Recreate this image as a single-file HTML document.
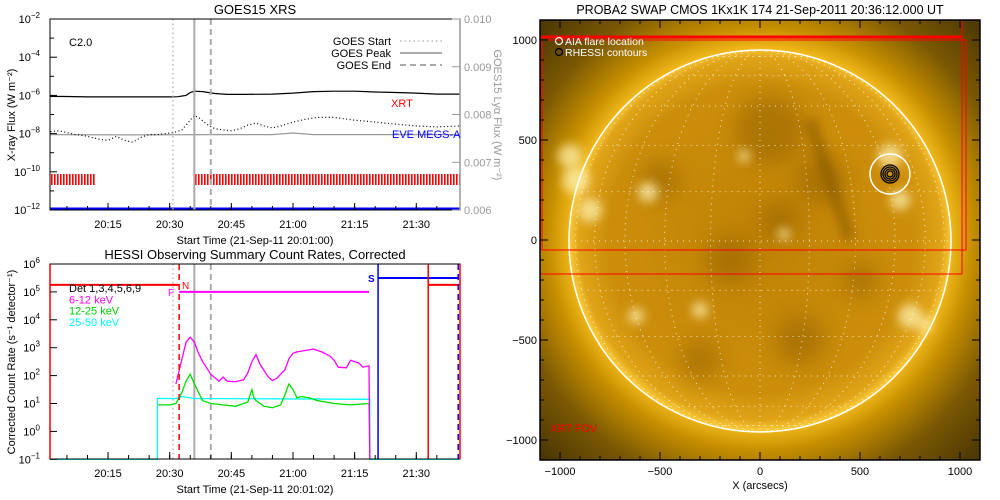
<!DOCTYPE html>
<html><head><meta charset="utf-8"><style>
html,body{margin:0;padding:0;background:#fff}
svg{display:block;font-family:"Liberation Sans",sans-serif}
</style></head><body>
<svg id="s" width="1000" height="500" viewBox="0 0 1000 500" xmlns="http://www.w3.org/2000/svg">
<defs>
<pattern id="xrtp" width="3" height="12" patternUnits="userSpaceOnUse"><rect width="1.6" height="12" fill="#f00"/></pattern>
<radialGradient id="cor" cx="760.5" cy="239" r="310" gradientUnits="userSpaceOnUse">
<stop offset="0.6" stop-color="#f8c020"/><stop offset="0.68" stop-color="#c89000"/><stop offset="0.82" stop-color="#7a5804"/><stop offset="1" stop-color="#4a3604"/></radialGradient>
<radialGradient id="disk" cx="760.5" cy="239" r="191" gradientUnits="userSpaceOnUse">
<stop offset="0" stop-color="#c08206"/><stop offset="0.8" stop-color="#cc8e0a"/><stop offset="0.95" stop-color="#e0a418"/><stop offset="1" stop-color="#f8c838"/></radialGradient>
<filter id="bl" x="-50%" y="-50%" width="200%" height="200%"><feGaussianBlur stdDeviation="5"/></filter>
<filter id="bl2" x="-50%" y="-50%" width="200%" height="200%"><feGaussianBlur stdDeviation="10"/></filter>
<clipPath id="imgclip"><rect x="540" y="20" width="440" height="440"/></clipPath>
<clipPath id="diskclip"><circle cx="760" cy="241" r="191"/></clipPath>
</defs>
<g id="top"></g>
<g id="bot"></g>
<g id="sun"></g>
</svg>
<script>
// ---------- data ----------
const goesLongT=[1,5,10,15,20,25,30,32,34,35,36,38,41,44,48,55,60,65,70,75,80,85,90,95,100.5];
const goesLongV=[-6.05,-6.06,-6.08,-6.08,-6.08,-6.08,-6.08,-6.07,-6.0,-5.85,-5.78,-5.8,-5.9,-5.95,-5.95,-5.93,-5.88,-5.8,-5.78,-5.78,-5.82,-5.85,-5.88,-5.93,-5.93];
const goesShortT=[1,3,5,7,9,11,13,15,17,19,21,23,25,27,29,31,33,35,36,37,39,41,43,45,47,49,51,53,55,57,60,63,66,70,75,80,85,90,95,100.5];
const goesShortV=[-7.9,-7.85,-7.95,-8.05,-8.1,-8.2,-8.3,-8.35,-8.15,-8.35,-8.45,-8.2,-8.05,-8.05,-8.0,-7.95,-7.8,-7.3,-7.05,-7.15,-7.5,-7.75,-7.8,-7.85,-7.75,-7.55,-7.45,-7.6,-7.7,-7.6,-7.4,-7.25,-7.15,-7.15,-7.3,-7.4,-7.5,-7.6,-7.65,-7.6];
const eveT=[1,20,40,55,60,65,100.5];
const eveV=[-8.05,-8.07,-8.05,-8.05,-7.97,-8.05,-8.05];
const xrtSegStart=[1,36];
const xrtSegEnd=[12,100.5];
const topTickLabels=["-2","-4","-6","-8","-10","-12"];
const timeTicks=[15,30,45,60,75,90];
const timeLabels=["20:15","20:30","20:45","21:00","21:15","21:30"];
const rightTicks=["0.010","0.009","0.008","0.007","0.006"];
const eventTimes=[30.8,36,40];
const magT=[31.5,32,33,34,35,36,37,38,40,42,43,44,46,48,49,50,51,52,54,55,56,58,59,60,61,63,65,67,69,70,71,73,74,75,76,77,78.5,78.7];
const magV=[1.7,2.0,2.6,3.2,3.38,3.2,2.8,2.5,2.05,1.8,1.95,1.8,1.78,1.85,2.1,2.5,2.75,2.4,1.95,1.82,1.9,2.2,2.6,2.8,2.85,2.9,2.95,2.85,2.7,2.55,2.3,2.28,2.55,2.5,2.45,2.3,2.35,-1];
const grnT=[27,30,31.5,33,34,35,36,37,38,40,43,46,49,50,50.5,51,53,55,57,58,59,60,61,62,64,66,70,74,78.5,78.7];
const grnV=[0.95,0.95,1.0,1.4,1.8,2.05,1.7,1.4,1.1,1.0,0.95,0.9,1.05,1.5,1.2,1.1,0.9,0.85,0.95,1.3,1.7,1.5,1.2,1.25,1.2,1.1,1.0,0.95,1.0,-1];
const cyaT=[1,27,27,31.5,33,36,78.7,78.7,100.5];
const cyaV=[-1,-1,1.18,1.18,1.25,1.18,1.15,-1,-1];
const botTickPow=["6","5","4","3","2","1","0","-1"];
const attenT=[32.3,92.9];
const saaT=[80.7,100.2];
const solarR=955;
const aiaFlare=[650,330];
const fovBox1=[-1100,1000,1010,-170];
const fovBox2=[-1090,1000,1030,-50];
const imgTicks=[-1000,-500,0,500,1000];

// ---------- helpers ----------
const NS="http://www.w3.org/2000/svg";
function mk(p,tag,at,txt){const e=document.createElementNS(NS,tag);for(const k in at)e.setAttribute(k,at[k]);if(txt!==undefined)e.textContent=txt;p.appendChild(e);return e;}
const xT=m=>50.5+(m-1)*4.11;
const yTop=v=>19+(-2-v)*19.1;
const yBot=v=>264+(6-v)*27.9;

// ---------- top panel ----------
const topG=document.getElementById('top');
let t=mk(topG,'text',{x:255,y:14,'text-anchor':'middle','font-size':13});t.textContent="GOES15 XRS";

for(let i=0;i<xrtSegStart.length;i++){
 const r=mk(topG,'rect',{x:xT(xrtSegStart[i]),y:174,width:xT(xrtSegEnd[i])-xT(xrtSegStart[i]),height:11,fill:'url(#xrtp)'});
 
}
function poly(p,T,V,ys,attrs,name){const pts=T.map((m,i)=>xT(m).toFixed(1)+','+ys(V[i]).toFixed(1)).join(' ');
 const e=mk(p,'polyline',Object.assign({points:pts,fill:'none'},attrs));return e;}
poly(topG,eveT,eveV,yTop,{stroke:'#999','stroke-width':1.2},'eve-megs-a-line');
poly(topG,goesLongT,goesLongV,yTop,{stroke:'#000','stroke-width':1.2},'goes-long-line');
poly(topG,goesShortT,goesShortV,yTop,{stroke:'#000','stroke-width':1.2,'stroke-dasharray':'1 2.5'},'goes-short-line');
let bl=mk(topG,'line',{x1:50,x2:460,y1:209,y2:209,stroke:'#00f','stroke-width':3});

const evStyles=[{'stroke-dasharray':'1.5 3','stroke-width':1.2},{'stroke-width':2},{'stroke-dasharray':'6 4','stroke-width':2}];
function evLines(p,y1,y2){eventTimes.forEach((m,i)=>{const l=mk(p,'line',Object.assign({x1:xT(m),x2:xT(m),y1:y1,y2:y2,stroke:'#aaa'},evStyles[i]));
 });}
evLines(topG,19,210);
let ax=mk(topG,'rect',{x:50,y:19,width:410,height:191,fill:'none',stroke:'#000','stroke-width':1});

mk(topG,'line',{x1:460,x2:460,y1:19,y2:210,stroke:'#999','stroke-width':1.5});
topTickLabels.forEach(p=>{const y=yTop(+p);mk(topG,'line',{x1:50,x2:57,y1:y,y2:y,stroke:'#000'});
 const tx=mk(topG,'text',{x:40,y:y+4,'text-anchor':'end','font-size':11});tx.textContent="10";
 const s=mk(tx,'tspan',{dy:-5,'font-size':8});s.textContent="\u2212"+p.slice(1);
 });
for(let d=-3;d>=-11;d-=2){const y=yTop(d);mk(topG,'line',{x1:50,x2:54,y1:y,y2:y,stroke:'#000'});}
rightTicks.forEach((lab,i)=>{const y=19+i*47.75;mk(topG,'line',{x1:452,x2:460,y1:y,y2:y,stroke:'#999'});
 const tx=mk(topG,'text',{x:464,y:y+4,'font-size':11,fill:'#999'},lab);});
function timeAxis(p,yb,yl){timeTicks.forEach((m,i)=>{const x=xT(m);mk(p,'line',{x1:x,x2:x,y1:yb,y2:yb-7,stroke:'#000'});
 const tx=mk(p,'text',{x:x,y:yl,'text-anchor':'middle','font-size':11},timeLabels[i]);});
 for(let m=5;m<100;m+=5){const x=xT(m);mk(p,'line',{x1:x,x2:x,y1:yb,y2:yb-4,stroke:'#000'});}}
timeAxis(topG,210,228);
t=mk(topG,'text',{x:255,y:244,'text-anchor':'middle','font-size':11},"Start Time (21-Sep-11 20:01:00)");
t=mk(topG,'text',{transform:'translate(15,115) rotate(-90)','text-anchor':'middle','font-size':11},"X-ray Flux (W m\u207B\u00B2)");
t=mk(topG,'text',{transform:'translate(494,115) rotate(90)','text-anchor':'middle','font-size':11,fill:'#999'},"GOES15 Ly\u03B1 Flux (W m\u207B\u00B2)");
t=mk(topG,'text',{x:69,y:46,'font-size':11},"C2.0");
["GOES Start","GOES Peak","GOES End"].forEach((s,i)=>{const y=41+i*12;
 const tx=mk(topG,'text',{x:391,y:y+4,'text-anchor':'end','font-size':11},s);
 mk(topG,'line',Object.assign({x1:400,x2:442,y1:y,y2:y,stroke:'#aaa'},evStyles[i]));});
t=mk(topG,'text',{x:391,y:107,'font-size':11,fill:'#f00'},"XRT");
t=mk(topG,'text',{x:392,y:138,'font-size':11,fill:'#00f'},"EVE MEGS-A");

// ---------- bottom panel ----------
const botG=document.getElementById('bot');
t=mk(botG,'text',{x:255,y:259,'text-anchor':'middle','font-size':13},"HESSI Observing Summary Count Rates, Corrected");
evLines(botG,264,459);
poly(botG,cyaT,cyaV,yBot,{stroke:'#0ff','stroke-width':1.3},'25-50kev-line');
poly(botG,grnT,grnV,yBot,{stroke:'#0d0','stroke-width':1.3},'12-25kev-line');
poly(botG,magT,magV,yBot,{stroke:'#f0f','stroke-width':1.3},'6-12kev-line');
function hl(x1,x2,v,c,n,w){const l=mk(botG,'line',{x1:x1,x2:x2,y1:yBot(v),y2:yBot(v),stroke:c,'stroke-width':w||2});}
hl(50,xT(attenT[0]),5.25,'#f00','attenuator-level');
hl(xT(attenT[0]),xT(78.5),5.0,'#f0f','flag-level');
hl(xT(saaT[0]),xT(saaT[1]),5.5,'#00f','saa-level');
hl(xT(attenT[1]),460,5.25,'#f00','attenuator-level');
function vl(m,c,dash,n){const l=mk(botG,'line',{x1:xT(m),x2:xT(m),y1:264,y2:459,stroke:c,'stroke-width':1.5});if(dash)l.setAttribute('stroke-dasharray',dash);}
vl(attenT[0],'#f00','6 4','attenuator-in-line');vl(attenT[1],'#f00',null,'attenuator-line');
vl(saaT[0],'#00f',null,'saa-start-line');vl(saaT[1],'#00f','6 4','saa-end-line');
ax=mk(botG,'rect',{x:50,y:264,width:410,height:195,fill:'none',stroke:'#000'});
mk(botG,'line',{x1:50,x2:50,y1:264,y2:459,stroke:'#f00','stroke-width':1.5});
mk(botG,'line',{x1:460,x2:460,y1:264,y2:459,stroke:'#f00','stroke-width':1.5});
botTickPow.forEach(p=>{const y=yBot(+p);mk(botG,'line',{x1:50,x2:57,y1:y,y2:y,stroke:'#000'});
 const tx=mk(botG,'text',{x:40,y:y+4,'text-anchor':'end','font-size':11},"10");const s=mk(tx,'tspan',{dy:-5,'font-size':8});s.textContent=p.replace('-','\u2212');
 });
timeAxis(botG,459,477);
t=mk(botG,'text',{x:255,y:493,'text-anchor':'middle','font-size':11},"Start Time (21-Sep-11 20:01:02)");
t=mk(botG,'text',{transform:'translate(15,362) rotate(-90)','text-anchor':'middle','font-size':11},"Corrected Count Rate (s\u207B\u00B9 detector\u207B\u00B9)");
[["Det 1,3,4,5,6,9","#000"],["6-12 keV","#f0f"],["12-25 keV","#0c0"],["25-50 keV","#0ff"]].forEach((e,i)=>{
 const tx=mk(botG,'text',{x:69,y:292+i*11.3,'font-size':11,fill:e[1]},e[0]);});
t=mk(botG,'text',{x:168,y:296,'font-size':10,fill:'#f0f'},"F");
t=mk(botG,'text',{x:182,y:289,'font-size':10,fill:'#f00'},"N");
t=mk(botG,'text',{x:368,y:282,'font-size':10,fill:'#00f','font-weight':'bold'},"S");

// ---------- sun panel ----------
const sunG=document.getElementById('sun');
const xS=a=>760+a*0.2, yS=a=>240-a*0.2;
const cx=xS(0), cy=yS(-5), R=solarR*0.2;
const g=mk(sunG,'g',{'clip-path':'url(#imgclip)'});

mk(g,'rect',{x:540,y:20,width:440,height:440,fill:'url(#cor)'});
mk(g,'circle',{cx:cx,cy:cy,r:R,fill:'url(#disk)'});
const dg=mk(g,'g',{'clip-path':'url(#diskclip)'});
// dark regions (arcsec)
const darkX=[50,300,-500,-150,200,-300,100,500];
const darkY=[550,300,300,-100,-500,-600,100,-200];
const darkR=[35,25,20,25,25,20,20,18];
darkX.forEach((x,i)=>mk(dg,'circle',{cx:xS(x),cy:yS(darkY[i]),r:darkR[i],fill:'#8a5c02',opacity:0.45,filter:'url(#bl2)'}));
mk(dg,'path',{d:`M${xS(250)},${yS(600)} L${xS(350)},${yS(300)} L${xS(450)},${yS(0)}`,stroke:'#7a5002','stroke-width':12,fill:'none',opacity:0.5,filter:'url(#bl)'});
// bright regions
const blobX=[-920,-850,-560,-950,650,700,750,820,-620,-300,-80,120];
const blobY=[300,150,240,420,420,200,-380,-420,-380,-350,420,30];
const blobR=[14,12,10,12,12,10,12,8,8,8,6,6];
blobX.forEach((x,i)=>mk(g,'circle',{cx:xS(x),cy:yS(blobY[i]),r:blobR[i],fill:'#fff2b0',opacity:0.75,filter:'url(#bl)'}));
for(let lat=-75;lat<=75;lat+=15){const yy=cy-R*Math.sin(lat*Math.PI/180),hw=R*Math.cos(lat*Math.PI/180);
 mk(g,'line',{x1:cx-hw,x2:cx+hw,y1:yy,y2:yy,stroke:'#fff','stroke-width':1,'stroke-dasharray':'1 5',opacity:0.8});}
for(let lon=-75;lon<=75;lon+=15){const rx=Math.abs(R*Math.sin(lon*Math.PI/180));
 if(rx<0.5)mk(g,'line',{x1:cx,x2:cx,y1:cy-R,y2:cy+R,stroke:'#fff','stroke-dasharray':'1 5',opacity:0.8});
 else mk(g,'path',{d:`M${cx},${cy-R} A${rx},${R} 0 0 ${lon>0?1:0} ${cx},${cy+R}`,fill:'none',stroke:'#fff','stroke-dasharray':'1 5',opacity:0.8});}
let limb=mk(g,'circle',{cx:cx,cy:cy,r:R,fill:'none',stroke:'#fff','stroke-width':1.5});

[fovBox1,fovBox2].forEach(bx=>{const extra=(bx===fovBox1?20:0);const r=mk(g,'rect',{x:xS(bx[0]),y:yS(bx[1])-extra,width:xS(bx[2])-xS(bx[0]),height:yS(bx[3])-yS(bx[1])+extra,fill:'none',stroke:'#f00','stroke-width':1});
 });
let tl=mk(g,'line',{x1:540,x2:xS(fovBox1[2]),y1:yS(fovBox1[1])-3,y2:yS(fovBox1[1])-3,stroke:'#f00','stroke-width':3});

let c1=mk(g,'circle',{cx:xS(aiaFlare[0]),cy:yS(aiaFlare[1]),r:20,fill:'none',stroke:'#fff','stroke-width':1.5});

[9,7,5,3].forEach(r=>{const c=mk(g,'circle',{cx:xS(aiaFlare[0]),cy:yS(aiaFlare[1]),r:r,fill:'none',stroke:'#000','stroke-width':1.3});
 });
ax=mk(sunG,'rect',{x:540,y:20,width:440,height:440,fill:'none',stroke:'#000','stroke-width':1.5});
for(let a=-1100;a<=1100;a+=100){const maj=a%500===0,L=maj?8:4;
 mk(sunG,'line',{x1:xS(a),x2:xS(a),y1:460,y2:460-L,stroke:'#000'});mk(sunG,'line',{x1:xS(a),x2:xS(a),y1:20,y2:20+L,stroke:'#000'});
 mk(sunG,'line',{x1:540,x2:540+L,y1:yS(a),y2:yS(a),stroke:'#000'});mk(sunG,'line',{x1:980,x2:980-L,y1:yS(a),y2:yS(a),stroke:'#000'});}
imgTicks.forEach(v=>{const lab=String(v).replace('-','\u2212');
 let tx=mk(sunG,'text',{x:xS(v),y:475,'text-anchor':'middle','font-size':11},lab);
 tx=mk(sunG,'text',{x:537,y:yS(v)+4,'text-anchor':'end','font-size':11},lab);});
t=mk(sunG,'text',{x:760,y:489,'text-anchor':'middle','font-size':11},"X (arcsecs)");
t=mk(sunG,'text',{x:760,y:14,'text-anchor':'middle','font-size':12.5},"PROBA2 SWAP CMOS 1Kx1K 174 21-Sep-2011 20:36:12.000 UT");
mk(sunG,'circle',{cx:559,cy:41,r:3.5,fill:'none',stroke:'#fff','stroke-width':1.2});
t=mk(sunG,'text',{x:565,y:45,'font-size':10.5,fill:'#fff'},"AIA flare location");
mk(sunG,'circle',{cx:559,cy:52,r:3.5,fill:'none',stroke:'#000','stroke-width':1.2});
t=mk(sunG,'text',{x:565,y:56,'font-size':10.5,fill:'#fff'},"RHESSI contours");
t=mk(sunG,'text',{x:550,y:432,'font-size':11,fill:'#f00'},"XRT FOV");
</script>
</body></html>
